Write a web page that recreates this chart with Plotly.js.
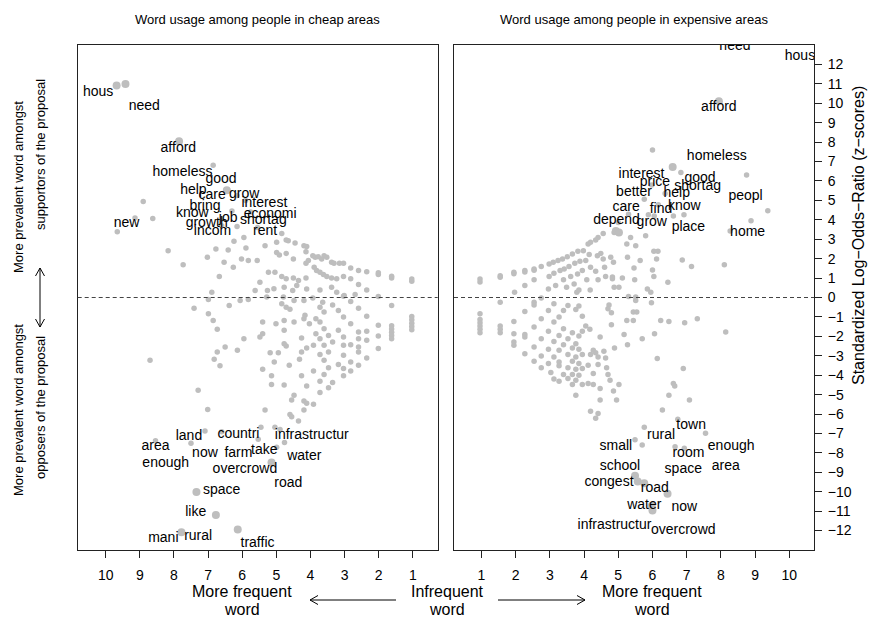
<!DOCTYPE html>
<html>
<head>
<meta charset="utf-8">
<script src="https://cdn.plot.ly/plotly-3.0.1.min.js"></script>
<style>
  html, body { margin: 0; padding: 0; background: #ffffff; }
  #chart { width: 871px; height: 618px; }
</style>
</head>
<body>
<div id="chart"></div>
<script>
// ---------- Word-level z-scores vs. frequency, cheap areas ----------
const cheapPoints = [
  [8.90,4.94],[9.14,4.09],[8.62,4.07],[9.66,3.38],[8.17,2.41],[7.73,1.69],[6.85,6.81],
  [7.02,2.07],[6.77,2.50],[6.41,2.44],[6.67,1.08],[6.89,0.27],[6.53,1.81],[6.26,1.56],[6.02,1.98],
  [5.82,1.90],[5.56,1.90],[5.89,2.55],[6.24,2.89],[5.95,3.09],[5.33,2.67],[4.99,2.84],[4.84,3.30],
  [4.71,2.96],[4.65,2.92],[4.45,2.80],[4.19,2.67],[4.11,2.62],[4.99,2.32],[4.91,2.19],[4.71,2.27],
  [4.50,1.98],[4.13,2.35],[4.06,1.90],[4.13,1.76],[3.93,2.15],[3.86,2.07],[3.77,2.10],[3.67,1.98],
  [3.60,2.15],[3.52,2.07],[3.38,1.81],[3.31,1.76],[3.15,1.76],[3.03,1.76],[2.82,1.52],[2.59,1.39],
  [2.35,1.33],[2.01,1.18],[2.01,1.27],[1.62,1.01],[1.62,1.10],[1.03,0.84],[1.03,0.95],[5.23,1.30],
  [5.04,1.30],[5.48,0.79],[5.62,0.36],[5.26,0.36],[4.84,1.08],[4.71,0.96],[4.50,1.01],[4.35,0.87],
  [4.13,1.01],[3.89,1.56],[3.82,1.39],[3.72,1.30],[3.62,1.18],[3.52,1.08],[3.38,1.01],[3.23,0.96],
  [3.03,1.08],[2.82,0.96],[2.59,0.67],[2.35,0.39],[2.01,0.05],[5.07,0.45],[4.77,0.53],[4.52,0.36],
  [4.40,0.62],[4.11,0.44],[3.72,0.39],[3.38,0.53],[3.23,0.27],[3.01,0.10],[2.69,0.15],
  [6.15,5.25],[5.90,5.00],[6.30,4.45],[5.75,4.40],[6.15,3.65],[6.60,3.70],[5.55,3.60],
  [7.41,-0.55],[6.99,-0.10],[6.38,-0.41],[6.06,-0.15],[5.82,-0.10],[5.28,0.02],[4.79,0.02],[4.48,-0.15],
  [4.19,-0.15],[3.93,-0.03],[3.64,-0.24],[3.35,-0.38],[3.03,0.07],[2.82,-0.20],[2.59,-0.55],[1.62,-0.41],
  [1.03,-0.98],[1.03,-1.15],[1.03,-1.32],[1.03,-1.49],[1.03,-1.66],
  [1.62,-1.45],[1.62,-1.62],[1.62,-1.79],[1.62,-1.96],[1.62,-2.13],
  [2.01,-1.43],[2.01,-1.98],[2.01,-2.63],[2.35,-0.96],[2.35,-1.74],[2.35,-2.20],[2.35,-3.11],[2.59,-1.78],
  [2.59,-2.12],[2.59,-2.55],[2.59,-2.80],[2.59,-3.49],[2.82,-1.35],[2.82,-2.43],[2.82,-3.32],[2.82,-3.79],
  [3.03,-1.01],[3.03,-2.03],[3.03,-2.46],[3.03,-2.97],[3.03,-3.66],[3.03,-4.03],[3.18,-0.67],[3.18,-1.69],
  [3.18,-3.45],[3.35,-2.29],[3.35,-4.38],[3.47,-1.95],[3.47,-2.80],[3.47,-3.62],[3.47,-4.65],[3.60,-0.75],
  [3.60,-1.61],[3.60,-2.46],[3.60,-3.23],[3.60,-3.97],[3.72,-0.50],[3.72,-1.26],[3.72,-2.12],[3.72,-2.94],
  [3.72,-4.31],[3.72,-4.89],[3.84,-1.09],[3.84,-1.86],[3.91,-2.46],[3.91,-3.79],[3.91,-5.50],[4.03,-1.35],
  [4.11,-2.60],[4.11,-4.55],[4.16,-0.92],[4.19,-1.09],[4.26,-2.08],[4.26,-2.80],[4.26,-4.03],[4.32,-3.18],
  [4.48,-1.26],[4.48,-5.03],[4.55,-5.28],[4.60,-0.61],[4.62,-3.49],[4.71,-0.50],[4.77,-1.18],[4.77,-1.69],
  [4.77,-2.38],[4.71,-2.50],[4.77,-4.51],[4.84,-0.32],[4.94,-2.84],[5.06,-3.32],[5.01,-1.35],[5.18,-2.84],
  [5.14,-4.03],[5.14,-4.48],[5.40,-1.26],[5.40,-1.86],[5.48,-2.03],[5.40,-3.69],[5.95,-2.12],[6.14,-2.72],
  [6.50,-2.55],[6.73,-2.80],[6.85,-1.18],[6.73,-1.64],[6.99,-0.84],[6.82,-3.18],[6.65,-3.52],[7.29,-4.77],
  [7.01,-5.76],[5.33,-5.79],[4.60,-6.02],[4.55,-6.14],[4.35,-6.36],[4.19,-5.33],[4.11,-5.45],[4.19,-5.79],
  [8.70,-3.23],[7.09,-6.87],[8.54,-7.37],[7.50,-7.50],[6.60,-6.91],[5.53,-7.30],[5.45,-6.68],[5.04,-6.68],
  [4.89,-6.79],[4.76,-7.47],[4.99,-7.71]
];
// heavier (more frequent) words
const cheapFrequent = [
  [9.68,10.92],[9.42,10.99],[7.85,8.05],[6.45,5.52],[5.14,-8.50],
  [7.34,-10.02],[6.77,-11.20],[7.78,-12.09],[6.13,-11.95]
];
const cheapWords = ["hous","need","afford","homeless","good","help","care","grow","interest","bring",
  "know","economi","job","shortag","growth","incom","rent","new",
  "area","land","countri","infrastructur","now","farm","take","water","enough","overcrowd","road",
  "space","like","mani","rural","traffic"];
const cheapWordX = [10.22,8.87,7.87,7.75,6.62,7.43,6.88,5.94,5.35,7.09,
  7.46,5.18,6.41,5.38,7.04,6.87,5.33,9.39,
  8.54,7.56,6.11,3.96,7.09,6.11,5.35,4.18,8.24,5.92,4.65,
  6.60,7.36,8.31,7.29,5.55];
const cheapWordY = [10.53,9.85,7.68,6.46,6.09,5.52,5.23,5.28,4.84,4.67,
  4.32,4.29,4.09,3.95,3.81,3.38,3.38,3.83,
  -7.68,-7.16,-7.03,-7.08,-8.02,-8.02,-7.90,-8.19,-8.56,-8.84,-9.56,
  -9.95,-11.09,-12.43,-12.29,-12.67];

// ---------- Word-level z-scores vs. frequency, expensive areas ----------
const pricyPoints = [
  [6.00,7.59],[6.83,6.43],[8.75,6.31],[5.98,5.79],[9.37,4.46],[8.88,3.95],[8.27,3.43],[8.10,1.69],
  [6.37,5.35],[6.17,4.77],[5.76,5.06],[5.88,4.26],[6.05,4.20],[5.30,4.29],[5.00,3.86],
  [0.96,0.95],[0.96,0.80],[1.55,1.04],[1.55,1.12],[1.95,1.30],[1.95,1.22],[2.27,1.39],[2.27,1.31],
  [2.54,1.47],[2.54,1.40],[2.75,1.59],[2.98,1.73],[3.10,1.81],[3.24,1.90],[3.37,1.98],[3.51,2.10],
  [3.66,2.24],[3.82,2.38],[3.98,2.41],[4.12,2.75],[4.19,2.84],[4.34,2.96],[4.41,3.09],[4.56,3.30],
  [4.88,3.35],
  [1.97,0.27],[2.27,0.62],[2.54,0.91],[2.75,-0.02],[2.98,1.08],[2.96,0.44],[3.12,1.25],[3.30,1.39],
  [3.17,0.62],[3.42,1.47],[3.40,0.91],[3.56,1.59],[3.61,1.08],[3.49,0.53],[3.73,1.76],[3.81,1.21],
  [3.71,0.70],[3.79,0.27],[3.88,1.86],[3.95,1.39],[4.08,0.91],[3.85,0.39],[4.05,1.90],[4.15,2.21],
  [4.19,1.56],[4.34,1.35],[4.41,0.91],[4.18,0.39],[4.39,2.15],[4.49,2.27],[4.56,1.98],[4.60,1.56],
  [4.63,1.08],[4.78,2.07],[4.86,1.81],[4.83,0.96],[4.83,1.05],[4.88,0.53],[5.02,0.53],[5.12,1.01],
  [5.25,2.75],[5.36,3.09],[5.27,2.07],[5.46,1.52],[5.48,0.91],[5.51,2.67],[5.64,1.90],[5.80,3.18],
  [5.85,0.44],[5.95,0.27],[6.00,1.42],[6.04,1.08],[6.04,2.38],[6.16,2.38],[6.12,1.98],[6.45,0.79],
  [6.87,1.93],[7.14,1.59],[6.61,4.20],[6.92,4.26],[5.30,0.05],
  [0.96,-0.84],[0.96,-1.13],[0.96,-1.30],[0.96,-1.47],[0.96,-1.64],[0.96,-1.81],
  [1.55,-0.24],[1.55,-1.47],[1.55,-1.64],[1.55,-1.81],
  [1.95,-1.23],[1.95,-1.86],[1.95,-2.29],[1.95,-2.46],
  [2.27,-0.72],[2.27,-1.91],[2.27,-2.03],[2.27,-2.89],
  [2.54,-0.24],[2.54,-0.38],[2.54,-1.52],[2.54,-2.55],[2.54,-3.28],
  [2.75,-1.09],[2.75,-2.12],[2.75,-3.01],[2.75,-3.62],
  [2.96,-0.67],[2.96,-1.74],[2.96,-2.67],[2.96,-3.40],[3.03,-3.86],
  [3.12,-0.32],[3.12,-1.26],[3.12,-2.26],[3.12,-3.06],[3.12,-4.20],
  [3.27,-1.01],[3.27,-1.95],[3.27,-2.72],[3.27,-3.32],[3.27,-3.52],[3.27,-4.31],
  [3.40,-0.67],[3.40,-1.61],[3.40,-2.43],[3.40,-3.97],
  [3.53,-0.41],[3.53,-2.12],[3.53,-2.94],[3.53,-3.62],[3.53,-4.17],
  [3.66,-1.81],[3.66,-2.60],[3.66,-3.28],[3.66,-3.97],[3.66,-4.48],
  [3.76,-0.62],[3.76,-2.38],[3.76,-3.06],[3.76,-3.69],[3.76,-4.26],[3.76,-5.03],
  [3.85,-0.44],[3.85,-1.98],[3.85,-2.67],[3.85,-3.40],[3.85,-4.00],
  [3.95,-0.96],[3.95,-1.74],[3.95,-2.94],[3.95,-3.66],[3.95,-4.48],
  [4.05,-1.47],[4.12,-3.49],[4.12,-4.43],[4.17,-1.64],[4.19,-2.94],
  [4.27,-2.72],[4.27,-3.91],[4.27,-4.48],[4.34,-2.84],[4.41,-3.06],[4.41,-3.45],
  [4.47,-2.03],[4.47,-5.28],[4.47,-4.68],[4.58,-2.77],[4.66,-3.62],[4.63,-3.11],[4.70,-3.97],
  [4.76,-4.26],[4.86,-4.82],[4.73,-0.38],[4.70,-0.58],[4.80,-0.79],[4.80,-1.40],[4.89,-2.60],
  [5.02,-4.48],[4.95,-5.28],[5.17,-1.91],[5.25,-1.18],[5.27,-2.43],[5.44,-0.75],[5.54,-0.75],
  [5.44,-1.18],[5.51,0.02],[5.51,-0.15],[5.70,-2.12],[5.97,-0.27],[6.06,-1.86],[6.14,-3.14],
  [6.24,-1.18],[6.48,-1.23],[6.94,-1.30],[7.31,-1.09],[6.90,-3.66],[6.61,-4.43],[6.65,-4.55],
  [6.48,-5.03],[7.08,-5.28],[6.29,-5.79],[4.19,-5.85],[4.41,-5.97],[4.34,-6.22],[8.14,-1.78],
  [5.76,-6.68],[5.49,-7.33],[5.70,-7.59],[6.74,-6.27],[7.55,-6.99],[6.66,-7.68],[6.93,-7.76]
];
const pricyFrequent = [
  [7.94,10.10],[6.59,6.72],[4.93,3.43],[5.02,3.35],
  [5.49,-9.18],[5.57,-9.47],[5.76,-9.56],[6.44,-10.10],[5.98,-10.72],[6.00,-10.96],
  [8.40,13.60],[10.25,13.40]
];
const pricyWords = ["need","hous","afford","homeless","interest","good","price","shortag","better",
  "help","peopl","care","find","know","depend","grow","place","home",
  "town","rural","small","enough","room","school","space","area","congest","road","water","now",
  "infrastructur","overcrowd"];
const pricyWordX = [8.41,10.31,7.94,7.88,5.68,7.39,6.07,7.32,5.46,
  6.71,8.72,5.23,6.25,6.93,4.95,5.98,7.05,8.78,
  7.13,6.25,4.93,8.30,7.05,5.05,6.90,8.14,4.73,6.07,5.76,6.93,
  4.89,6.90];
const pricyWordY = [12.92,12.41,9.79,7.25,6.31,6.14,5.91,5.69,5.40,
  5.35,5.20,4.63,4.55,4.68,3.95,3.86,3.61,3.35,
  -6.60,-7.08,-7.68,-7.68,-8.02,-8.70,-8.87,-8.70,-9.52,-9.81,-10.72,-10.79,
  -11.74,-11.98];

const xTicks = [1,2,3,4,5,6,7,8,9,10];
const zTicks = [-12,-11,-10,-9,-8,-7,-6,-5,-4,-3,-2,-1,0,1,2,3,4,5,6,7,8,9,10,11,12];

// ---------- drawing ----------
const W = 871, TOP = 45, BOTTOM = 550;
const FONT = 'Liberation Sans, Arial, Helvetica, sans-serif';
const DOT = '#bebebe';
const px = p => p / W;                              // pixel column -> paper x
const py = p => (BOTTOM - p) / (BOTTOM - TOP);      // pixel row -> paper y

function dots(pts, size, xa, ya) {
  return {
    type: 'scatter', mode: 'markers', xaxis: xa, yaxis: ya,
    x: pts.map(p => p[0]), y: pts.map(p => p[1]),
    marker: { color: DOT, size: size, line: { width: 0 } },
    hoverinfo: 'skip', cliponaxis: true
  };
}
function words(txt, xs, ys, xa, ya) {
  return {
    type: 'scatter', mode: 'text', xaxis: xa, yaxis: ya,
    x: xs, y: ys, text: txt, textposition: 'middle center',
    textfont: { family: FONT, size: 14, color: '#000' },
    hoverinfo: 'skip', cliponaxis: true
  };
}

const data = [
  dots(cheapPoints, 5.5, 'x', 'y'),
  dots(cheapFrequent, 8, 'x', 'y'),
  words(cheapWords, cheapWordX, cheapWordY, 'x', 'y'),
  dots(pricyPoints, 5.5, 'x2', 'y2'),
  dots(pricyFrequent, 8, 'x2', 'y2'),
  words(pricyWords, pricyWordX, pricyWordY, 'x2', 'y2')
];

const frame = { showline: true, linecolor: '#222', linewidth: 1, mirror: true,
                showgrid: false, zeroline: false };
const xCommon = Object.assign({}, frame, {
  tickmode: 'array', tickvals: xTicks, ticktext: xTicks.map(String),
  ticks: 'outside', ticklen: 7, tickcolor: '#222', tickwidth: 1,
  ticklabelstandoff: 5, tickfont: { family: FONT, size: 14, color: '#000' }, fixedrange: true
});

const note = (text, x, y, size, extra) => Object.assign({
  text: text, xref: 'paper', yref: 'paper', x: px(x), y: py(y),
  xanchor: 'center', yanchor: 'middle', showarrow: false,
  font: { family: FONT, size: size, color: '#000' }
}, extra || {});

function seg(x0, y0, x1, y1) {
  return { type: 'line', xref: 'paper', yref: 'paper',
           x0: px(x0), y0: py(y0), x1: px(x1), y1: py(y1),
           line: { color: '#000', width: 1 } };
}

const layout = {
  width: 871, height: 618,
  margin: { l: 0, r: 0, t: TOP, b: 618 - BOTTOM, pad: 0 },
  paper_bgcolor: '#fff', plot_bgcolor: '#fff',
  showlegend: false,
  font: { family: FONT, size: 13, color: '#000' },
  xaxis: Object.assign({}, xCommon, { domain: [77.7 / W, 437.7 / W], range: [10.82, 0.27], anchor: 'y' }),
  xaxis2: Object.assign({}, xCommon, { domain: [454 / W, 814 / W], range: [0.2, 10.72], anchor: 'y2' }),
  yaxis: Object.assign({}, frame, { range: [-13, 13], showticklabels: false, ticks: '', anchor: 'x', fixedrange: true }),
  yaxis2: Object.assign({}, frame, {
    range: [-13, 13], anchor: 'x2', side: 'right',
    tickmode: 'array', tickvals: zTicks, ticktext: zTicks.map(v => v < 0 ? '\u2212' + (-v) : String(v)),
    ticks: 'outside', ticklen: 7, tickcolor: '#222', tickwidth: 1, ticklabelstandoff: 3,
    tickfont: { family: FONT, size: 14, color: '#000' }, fixedrange: true
  }),
  shapes: [
    { type: 'line', xref: 'x domain', yref: 'y', x0: 0, x1: 1, y0: 0, y1: 0,
      line: { color: '#444', width: 1, dash: '4px,3px' } },
    { type: 'line', xref: 'x2 domain', yref: 'y2', x0: 0, x1: 1, y0: 0, y1: 0,
      line: { color: '#444', width: 1, dash: '4px,3px' } },
    // bottom arrows
    seg(310, 600, 396, 600), seg(310, 600, 318, 595.5), seg(310, 600, 318, 604.5),
    seg(498, 600, 585, 600), seg(585, 600, 577, 595.5), seg(585, 600, 577, 604.5),
    // vertical double arrow in the left margin
    seg(40, 268, 40, 327), seg(40, 268, 35.5, 276), seg(40, 268, 44.5, 276),
    seg(40, 327, 35.5, 319), seg(40, 327, 44.5, 319)
  ],
  annotations: [
    { text: 'Word usage among people in cheap areas', xref: 'x domain', yref: 'paper',
      x: 0.5, y: py(20), xanchor: 'center', yanchor: 'middle', showarrow: false,
      font: { family: FONT, size: 13, color: '#000' } },
    { text: 'Word usage among people in expensive areas', xref: 'x2 domain', yref: 'paper',
      x: 0.5, y: py(20), xanchor: 'center', yanchor: 'middle', showarrow: false,
      font: { family: FONT, size: 13, color: '#000' } },
    note('Standardized Log\u2212Odds\u2212Ratio (z\u2212scores)', 858, 236, 16, { textangle: -90 }),
    note('More prevalent word amongst', 18, 187, 13, { textangle: -90 }),
    note('supportors of the proposal', 40, 155, 13, { textangle: -90 }),
    note('More prevalent word amongst', 18, 410, 13, { textangle: -90 }),
    note('opposers of the proposal', 40, 408, 13, { textangle: -90 }),
    note('More frequent', 242, 591, 16), note('word', 242, 609, 16),
    note('Infrequent', 447, 591, 16), note('word', 447, 609, 16),
    note('More frequent', 652, 591, 16), note('word', 652, 609, 16)
  ]
};

Plotly.newPlot('chart', data, layout, { staticPlot: true, displayModeBar: false });
</script>
</body>
</html>
